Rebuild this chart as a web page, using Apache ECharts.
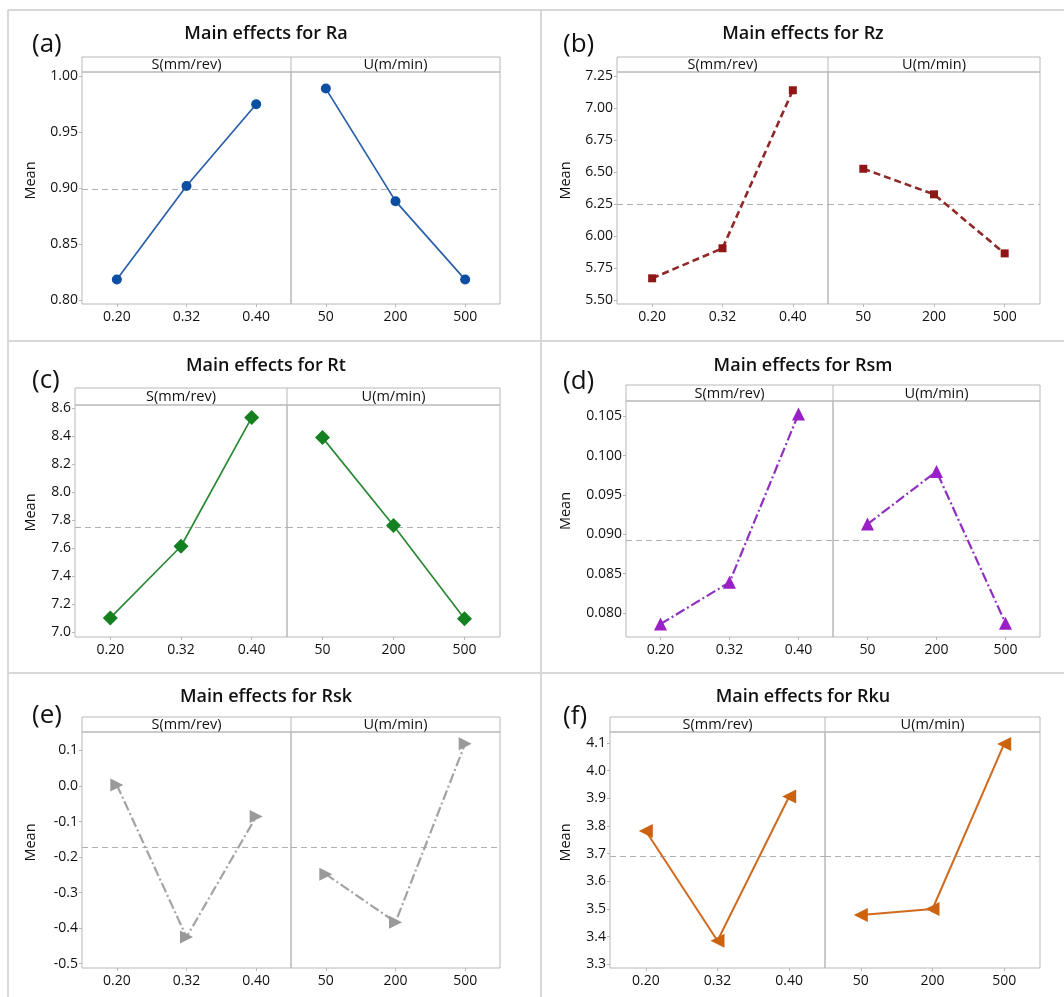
<!DOCTYPE html>
<html>
<head>
<meta charset="utf-8">
<script src="https://cdn.jsdelivr.net/npm/echarts@6/dist/echarts.min.js"></script>
<style>
html,body{margin:0;padding:0;background:#fff;}
#main{width:1064px;height:997px;}
</style>
</head>
<body>
<div id="main"></div>
<script>
// ---- data ----
const sLevels = ['0.20', '0.32', '0.40'];
const uLevels = ['50', '200', '500'];
const factorNames = ['S(mm/rev)', 'U(m/min)'];

const raS = [0.8185, 0.902, 0.975];
const raU = [0.989, 0.8885, 0.8185];
const raMean = 0.8995;

const rzS = [5.67, 5.905, 7.141];
const rzU = [6.527, 6.327, 5.865];
const rzMean = 6.249;

const rtS = [7.10, 7.612, 8.531];
const rtU = [8.388, 7.76, 7.095];
const rtMean = 7.748;

const rsmS = [0.0786, 0.0839, 0.1053];
const rsmU = [0.0913, 0.0980, 0.0787];
const rsmMean = 0.0892;

const rskS = [0.003, -0.425, -0.086];
const rskU = [-0.248, -0.383, 0.119];
const rskMean = -0.171;

const rkuS = [3.782, 3.385, 3.907];
const rkuU = [3.478, 3.50, 4.097];
const rkuMean = 3.69;

const raTicks = [0.80, 0.85, 0.90, 0.95, 1.00];
const rzTicks = [5.50, 5.75, 6.00, 6.25, 6.50, 6.75, 7.00, 7.25];
const rtTicks = [7.0, 7.2, 7.4, 7.6, 7.8, 8.0, 8.2, 8.4, 8.6];
const rsmTicks = [0.080, 0.085, 0.090, 0.095, 0.100, 0.105];
const rskTicks = [-0.5, -0.4, -0.3, -0.2, -0.1, 0.0, 0.1];
const rkuTicks = [3.3, 3.4, 3.5, 3.6, 3.7, 3.8, 3.9, 4.0, 4.1];

const panelLabels = ['(a)', '(b)', '(c)', '(d)', '(e)', '(f)'];
const responseNames = ['Ra', 'Rz', 'Rt', 'Rsm', 'Rsk', 'Rku'];

// ---- layout / style ----
const FONT = '"Open Sans", "Noto Sans", sans-serif';
const TXT = '#111';
const panels = [
  {S: raS, U: raU, mean: raMean, ticks: raTicks, dec: 2, range: [0.7967, 1.0038],
   L: 82, R: 500, T: 57, SB: 72, B: 304, D: 291, tx: 266, ty: 34, lx: 32, ly: 45, mx: 31,
   color: '#2a5fab', mcolor: '#0b4ea2', lw: 1.7, ltype: 'solid', sym: 'circle', size: 10, rot: 0},
  {S: rzS, U: rzU, mean: rzMean, ticks: rzTicks, dec: 2, range: [5.469, 7.284],
   L: 617, R: 1040, T: 57, SB: 72, B: 304, D: 828, tx: 803, ty: 34, lx: 563, ly: 45, mx: 566,
   color: '#902828', mcolor: '#8e1616', lw: 2.6, ltype: [7, 4], sym: 'rect', size: 8, rot: 0},
  {S: rtS, U: rtU, mean: rtMean, ticks: rtTicks, dec: 1, range: [6.964, 8.621],
   L: 75, R: 500, T: 388, SB: 405, B: 637, D: 287, tx: 266, ty: 366, lx: 32, ly: 381, mx: 31,
   color: '#2a8a36', mcolor: '#14801f', lw: 1.7, ltype: 'solid', sym: 'diamond', size: 15, rot: 0},
  {S: rsmS, U: rsmU, mean: rsmMean, ticks: rsmTicks, dec: 3, range: [0.07695, 0.10695],
   L: 626, R: 1040, T: 385, SB: 401, B: 637, D: 833, tx: 803, ty: 366, lx: 563, ly: 382, mx: 566,
   color: '#9030c0', mcolor: '#9b1fc6', lw: 2.2, ltype: [10, 3, 2, 3], sym: 'triangle', size: 13, rot: 0},
  {S: rskS, U: rskU, mean: rskMean, ticks: rskTicks, dec: 1, range: [-0.512, 0.152],
   L: 82, R: 500, T: 717, SB: 732, B: 968, D: 291, tx: 266, ty: 697, lx: 32, ly: 716, mx: 31,
   color: '#a3a3a3', mcolor: '#9a9a9a', lw: 2.2, ltype: [10, 3, 2, 3], sym: 'triangle', size: 13, rot: -90},
  {S: rkuS, U: rkuU, mean: rkuMean, ticks: rkuTicks, dec: 1, range: [3.2866, 4.14],
   L: 610, R: 1040, T: 717, SB: 732, B: 968, D: 825, tx: 803, ty: 697, lx: 563, ly: 717, mx: 566,
   color: '#d06a1e', mcolor: '#cc630f', lw: 2.0, ltype: 'solid', sym: 'triangle', size: 14, rot: 90}
];

const FRAME = '#b8b8b8';
const grids = [], xAxes = [], yAxes = [], series = [], graphics = [];

// figure separator lines
const sepColor = '#d8d8d8';
[[8, 10, 1064, 10], [8, 10, 8, 997], [541, 10, 541, 997], [8, 341, 1064, 341], [8, 673, 1064, 673]].forEach(s => {
  graphics.push({type: 'line', shape: {x1: s[0], y1: s[1], x2: s[2], y2: s[3]},
    style: {stroke: sepColor, lineWidth: 2}, silent: true});
});

panels.forEach((p, pi) => {
  const sides = [{x0: p.L, x1: p.D, levels: sLevels, vals: p.S}, {x0: p.D, x1: p.R, levels: uLevels, vals: p.U}];
  sides.forEach((sd, si) => {
    const gi = grids.length;
    grids.push({left: sd.x0, top: p.SB, width: sd.x1 - sd.x0, height: p.B - p.SB,
      show: true, borderColor: FRAME, borderWidth: 1, backgroundColor: 'transparent', containLabel: false});
    xAxes.push({type: 'category', gridIndex: gi, data: sd.levels, boundaryGap: true, position: 'bottom',
      axisLine: {show: false, onZero: false},
      axisTick: {show: true, alignWithLabel: true, length: 3, lineStyle: {color: FRAME}},
      axisLabel: {color: TXT, fontSize: 14, fontFamily: FONT, margin: 6},
      splitLine: {show: false}});
    yAxes.push({type: 'value', gridIndex: gi, min: p.range[0], max: p.range[1],
      axisLine: {show: false, onZero: false},
      splitLine: {show: false},
      axisTick: {show: si === 0, length: 3, customValues: p.ticks, lineStyle: {color: FRAME}},
      axisLabel: {show: si === 0, customValues: p.ticks, color: TXT, fontSize: 14, fontFamily: FONT, margin: 4,
        formatter: v => v.toFixed(p.dec)}});
    series.push({type: 'line', xAxisIndex: gi, yAxisIndex: gi, data: sd.vals,
      symbol: p.sym, symbolSize: p.size, symbolRotate: p.rot,
      lineStyle: {color: p.color, width: p.lw, type: p.ltype},
      itemStyle: {color: p.mcolor},
      z: 3,
      markLine: {silent: true, symbol: 'none', precision: 8, label: {show: false},
        lineStyle: {color: '#b0b0b0', type: [6, 4], width: 1}, z: 1,
        data: [{yAxis: p.mean}]}});
    // strip text
    graphics.push({type: 'text', x: (sd.x0 + sd.x1) / 2, y: (p.T + p.SB) / 2 + 0.5, silent: true,
      style: {text: factorNames[si], font: '14.5px ' + FONT, fill: TXT, textAlign: 'center', textVerticalAlign: 'middle'}});
  });
  // strip frame
  graphics.push({type: 'rect', shape: {x: p.L, y: p.T, width: p.R - p.L, height: p.SB - p.T}, silent: true,
    style: {fill: 'none', stroke: FRAME, lineWidth: 1}});
  graphics.push({type: 'line', shape: {x1: p.D, y1: p.T, x2: p.D, y2: p.SB}, silent: true,
    style: {stroke: FRAME, lineWidth: 1}});
  // title
  graphics.push({type: 'text', x: p.tx, y: p.ty, silent: true,
    style: {text: 'Main effects for ' + responseNames[pi], font: '600 18px ' + FONT, fill: '#111',
      textAlign: 'center', textVerticalAlign: 'middle'}});
  // panel label
  graphics.push({type: 'text', x: p.lx, y: p.ly, silent: true,
    style: {text: panelLabels[pi], font: '26px ' + FONT, fill: '#111', textAlign: 'left', textVerticalAlign: 'middle'}});
  // y axis name
  graphics.push({type: 'text', x: p.mx, y: (p.T + p.B) / 2, rotation: Math.PI / 2, silent: true,
    style: {text: 'Mean', font: '14.5px ' + FONT, fill: TXT, textAlign: 'center', textVerticalAlign: 'middle'}});
});

const chart = echarts.init(document.getElementById('main'), null, {renderer: 'canvas'});
chart.setOption({
  animation: false,
  backgroundColor: '#fff',
  grid: grids,
  xAxis: xAxes,
  yAxis: yAxes,
  series: series,
  graphic: graphics
});
</script>
</body>
</html>
